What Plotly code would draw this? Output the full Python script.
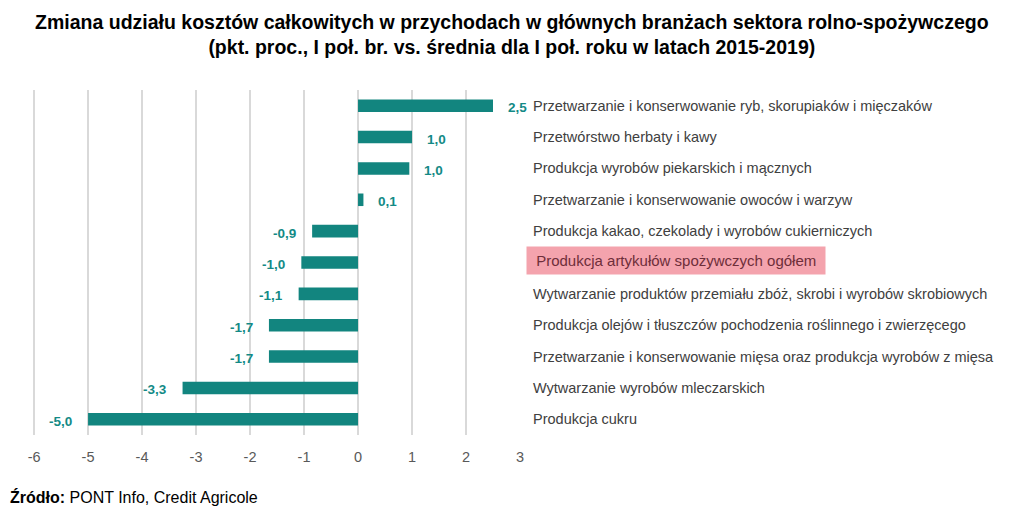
import plotly.graph_objects as go

categories = [
    "Przetwarzanie i konserwowanie ryb, skorupiaków i mięczaków",
    "Przetwórstwo herbaty i kawy",
    "Produkcja wyrobów piekarskich i mącznych",
    "Przetwarzanie i konserwowanie owoców i warzyw",
    "Produkcja kakao, czekolady i wyrobów cukierniczych",
    "Produkcja artykułów spożywczych ogółem",
    "Wytwarzanie produktów przemiału zbóż, skrobi i wyrobów skrobiowych",
    "Produkcja olejów i tłuszczów pochodzenia roślinnego i zwierzęcego",
    "Przetwarzanie i konserwowanie mięsa oraz produkcja wyrobów z mięsa",
    "Wytwarzanie wyrobów mleczarskich",
    "Produkcja cukru",
]
values = [2.5, 1.0, 0.95, 0.1, -0.85, -1.05, -1.1, -1.65, -1.65, -3.25, -5.0]
value_labels = ["2,5", "1,0", "1,0", "0,1", "-0,9", "-1,0", "-1,1", "-1,7", "-1,7", "-3,3", "-5,0"]
highlight = "Produkcja artykułów spożywczych ogółem"
x_ticks = [-6, -5, -4, -3, -2, -1, 0, 1, 2, 3]

TEAL = "#12857f"
FONT = "Liberation Sans, Arial, sans-serif"

fig = go.Figure(go.Bar(
    x=values, y=categories, orientation="h",
    marker=dict(color=TEAL, line=dict(width=0)),
    hoverinfo="skip",
))

annotations = []
for cat, v, lab in zip(categories, values, value_labels):
    annotations.append(dict(
        x=v, y=cat, xref="x", yref="y", text=f"<b>{lab}</b>", showarrow=False,
        xanchor="left" if v >= 0 else "right", xshift=13 if v >= 0 else -14, yshift=-2,
        font=dict(family=FONT, size=13.5, color="#138a86"),
    ))
for cat in categories:
    if cat == highlight:
        annotations.append(dict(
            x=1, y=cat, xref="paper", yref="y", text="\u00a0" + cat + "\u00a0",
            showarrow=False, xanchor="left", xshift=6, yshift=2,
            bgcolor="#f4a3ad", borderpad=5,
            font=dict(family=FONT, size=15, color="#6e2e3a"),
        ))
    else:
        annotations.append(dict(
            x=1, y=cat, xref="paper", yref="y", text=cat,
            showarrow=False, xanchor="left", xshift=11,
            font=dict(family=FONT, size=14.5, color="#404040"),
        ))

annotations.append(dict(
    x=0, y=0, xref="paper", yref="paper", xanchor="left", yanchor="top",
    xshift=-25, yshift=-51,
    text="<b>Źródło:</b> PONT Info, Credit Agricole", showarrow=False,
    font=dict(family=FONT, size=16, color="#000000"),
))

fig.update_layout(
    width=1024, height=520,
    margin=dict(l=25, r=512, t=82, b=93, autoexpand=False),
    paper_bgcolor="white", plot_bgcolor="white",
    bargap=0.6, showlegend=False,
    title=dict(
        text="<b>Zmiana udziału kosztów całkowitych w przychodach w głównych branżach sektora rolno-spożywczego<br>"
             "(pkt. proc., I poł. br. vs. średnia dla I poł. roku w latach 2015-2019)</b>",
        xref="container", x=0.492, xanchor="center", yref="container", y=0.96, yanchor="top",
        font=dict(family=FONT, size=19.5, color="#000000"),
    ),
    annotations=annotations,
    xaxis=dict(
        range=[-6.02, 3], tickvals=x_ticks, ticktext=[str(t) for t in x_ticks],
        showgrid=True, gridcolor="#d9d9d9", gridwidth=1.5,
        zeroline=True, zerolinecolor="#d9d9d9", zerolinewidth=1.5,
        showline=False, ticks="", automargin=False, ticklabelstandoff=11,
        tickfont=dict(family=FONT, size=14.5, color="#595959"),
    ),
    yaxis=dict(
        categoryorder="array", categoryarray=categories, autorange="reversed",
        showticklabels=False, showgrid=False, zeroline=False, showline=False, ticks="",
        automargin=False,
    ),
)

fig.write_html("out.html")
